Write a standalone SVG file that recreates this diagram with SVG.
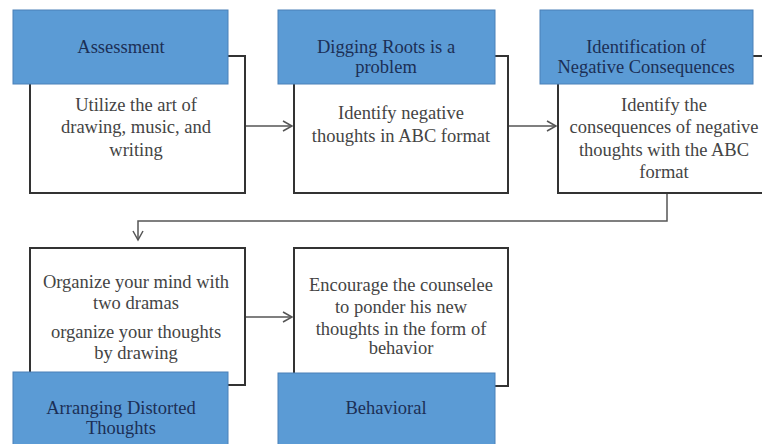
<svg xmlns="http://www.w3.org/2000/svg" width="762" height="444" viewBox="0 0 762 444" font-family="Liberation Serif, DejaVu Serif, serif">
<style>
.box{fill:#fff;stroke:#333;stroke-width:2}
.hdr{fill:#5b9bd5;stroke:#4a80b8;stroke-width:1}
.ht{font-size:18.5px;fill:#1c2f55;text-anchor:middle}
.bt{font-size:18.5px;fill:#444;text-anchor:middle}
.ln{fill:none;stroke:#555;stroke-width:1.5}
</style>
<defs>
<marker id="ah" markerWidth="12" markerHeight="12" refX="10" refY="6" orient="auto" markerUnits="userSpaceOnUse">
<path d="M1,1 L10,6 L1,11" fill="none" stroke="#555" stroke-width="1.5"/>
</marker>
</defs>
<rect width="762" height="444" fill="#fff"/>
<g id="connectors">
<line class="ln" x1="245" y1="126" x2="292" y2="126" marker-end="url(#ah)"/>
<line class="ln" x1="508" y1="126" x2="556" y2="126" marker-end="url(#ah)"/>
<polyline class="ln" points="667,193 667,221 138,221 138,240" marker-end="url(#ah)"/>
<line class="ln" x1="245" y1="317" x2="292" y2="317" marker-end="url(#ah)"/>
</g>
<g id="n1">
<rect class="box" x="30" y="56" width="215" height="137"/>
<rect class="hdr" x="13" y="10" width="215" height="74"/>
<text class="ht" x="121" y="53">Assessment</text>
<text class="bt" x="136" y="111">Utilize the art of</text>
<text class="bt" x="136" y="133">drawing, music, and</text>
<text class="bt" x="136" y="156">writing</text>
</g>
<g id="n2">
<rect class="box" x="294" y="56" width="214" height="137"/>
<rect class="hdr" x="278" y="10" width="217" height="74"/>
<text class="ht" x="386" y="53">Digging Roots is a</text>
<text class="ht" x="386" y="73">problem</text>
<text class="bt" x="401" y="119">Identify negative</text>
<text class="bt" x="401" y="142">thoughts in ABC format</text>
</g>
<g id="n3">
<rect class="box" x="558" y="56" width="214" height="137"/>
<rect class="hdr" x="540" y="10" width="213" height="74"/>
<text class="ht" x="646" y="53">Identification of</text>
<text class="ht" x="646" y="73">Negative Consequences</text>
<text class="bt" x="664" y="111">Identify the</text>
<text class="bt" x="664" y="133">consequences of negative</text>
<text class="bt" x="664" y="156">thoughts with the ABC</text>
<text class="bt" x="664" y="178">format</text>
</g>
<g id="n4">
<rect class="box" x="30" y="248" width="215" height="137"/>
<rect class="hdr" x="13" y="372" width="215" height="80"/>
<text class="bt" x="136" y="288">Organize your mind with</text>
<text class="bt" x="136" y="309">two dramas</text>
<text class="bt" x="136" y="338">organize your thoughts</text>
<text class="bt" x="136" y="359">by drawing</text>
<text class="ht" x="121" y="414">Arranging Distorted</text>
<text class="ht" x="121" y="434">Thoughts</text>
</g>
<g id="n5">
<rect class="box" x="294" y="248" width="214" height="138"/>
<rect class="hdr" x="278" y="373" width="217" height="80"/>
<text class="bt" x="401" y="291">Encourage the counselee</text>
<text class="bt" x="401" y="313">to ponder his new</text>
<text class="bt" x="401" y="335">thoughts in the form of</text>
<text class="bt" x="401" y="354">behavior</text>
<text class="ht" x="386" y="414">Behavioral</text>
</g>
</svg>
